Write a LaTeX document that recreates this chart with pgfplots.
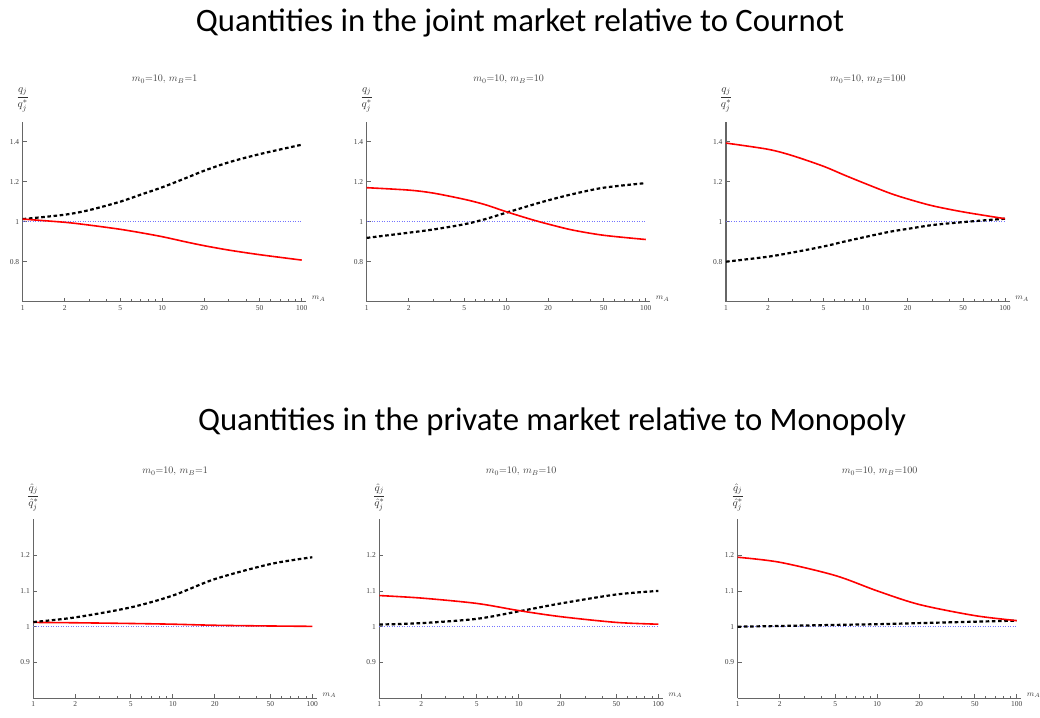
\documentclass[border=0pt]{standalone}
\usepackage{pgfplots}
\pgfplotsset{compat=1.18}
\usepackage{fontspec}
\setmainfont{Liberation Serif}
\newfontfamily\headfont{Carlito}

\definecolor{axisgray}{gray}{0.40}
\definecolor{refblue}{rgb}{0.45,0.45,1.0}

\pgfplotsset{every axis/.append style={
    xmode=log, xmin=1, xmax=108,
    scale only axis, width=283.7pt,
    axis lines*=left,
    axis line style={draw=axisgray, line width=1.1pt},
    tick align=inside,
    major tick length=4pt, minor tick length=2.2pt,
    tick style={axisgray, line width=0.8pt},
    xtick={1,2,5,10,20,50,100},
    xticklabels={1,2,5,10,20,50,100},
    minor xtick={3,4,6,7,8,9,30,40,60,70,80,90},
    ticklabel style={font=\fontsize{7.5}{8}\selectfont, text=black!75},
    clip=false,
}}

\tikzset{
  mmred/.style={red, line width=1.6pt, smooth},
  mmblack/.style={black, line width=2.2pt, dash pattern=on 3.6pt off 2.6pt, smooth},
  mmone/.style={refblue, line width=1.0pt, dash pattern=on 0.9pt off 1.6pt},
}

% panel decorations: subtitle, vertical label and horizontal label
\newcommand{\panelnotes}[3]{%
  \node[font=\fontsize{10}{11}\selectfont, text=black!75] at (rel axis cs:0.5,1) [yshift=#3] {$m_0{=}10,\,m_B{=}#1$};
  \node[font=\fontsize{11}{12}\selectfont, text=black!80] at (rel axis cs:0,1) [yshift=22pt] {#2};
  \node[font=\fontsize{8.5}{9}\selectfont, text=black!75, anchor=west] at (rel axis cs:1,0) [xshift=2pt, yshift=3pt] {$m_A$};
}

\begin{document}
\begin{tikzpicture}
\path[use as bounding box] (0,0) rectangle (1040pt,717pt);

\node[font=\headfont\fontsize{32.7}{36}\selectfont, anchor=base] at (520pt,685pt)
  {Quantities in the joint market relative to Cournot};
\node[font=\headfont\fontsize{32.7}{36}\selectfont, anchor=base] at (552pt,286pt)
  {Quantities in the private market relative to Monopoly};

% ---------- joint market ----------
\begin{axis}[height=180pt, ymin=0.6, ymax=1.5, ytick={0.8,1,1.2,1.4}, yticklabels={0.8,1,1.2,1.4},
  at={(22.7pt,415.3pt)}, anchor=south west]
  \addplot[mmone] coordinates {(1,1) (100,1)};
  \addplot[mmblack] coordinates {(1,1.013) (2,1.035) (3,1.058) (5,1.10) (7,1.135) (10,1.172) (15,1.22) (20,1.255) (30,1.297) (50,1.338) (100,1.385)};
  \addplot[mmred] coordinates {(1,1.013) (2,0.997) (3,0.983) (5,0.962) (7,0.945) (10,0.925) (15,0.898) (20,0.88) (30,0.858) (50,0.835) (100,0.808)};
  \panelnotes{1}{$\displaystyle\frac{q_j}{q_j^{*}}$}{42pt}
\end{axis}

\begin{axis}[height=180pt, ymin=0.6, ymax=1.5, ytick={0.8,1,1.2,1.4}, yticklabels={0.8,1,1.2,1.4},
  at={(366.7pt,415.3pt)}, anchor=south west]
  \addplot[mmone] coordinates {(1,1) (100,1)};
  \addplot[mmblack] coordinates {(1,0.919) (2,0.945) (3,0.961) (5,0.987) (7,1.012) (10,1.045) (15,1.082) (20,1.107) (30,1.138) (50,1.17) (100,1.193)};
  \addplot[mmred] coordinates {(1,1.17) (2,1.158) (3,1.143) (5,1.112) (7,1.086) (10,1.05) (15,1.012) (20,0.988) (30,0.958) (50,0.932) (100,0.911)};
  \panelnotes{10}{$\displaystyle\frac{q_j}{q_j^{*}}$}{42pt}
\end{axis}

\begin{axis}[height=180pt, ymin=0.6, ymax=1.5, ytick={0.8,1,1.2,1.4}, yticklabels={0.8,1,1.2,1.4},
  at={(726pt,415.3pt)}, anchor=south west]
  \addplot[mmone] coordinates {(1,1) (100,1)};
  \addplot[mmblack] coordinates {(1,0.80) (2,0.825) (3,0.846) (5,0.876) (7,0.90) (10,0.924) (15,0.95) (20,0.964) (30,0.983) (50,0.998) (100,1.015)};
  \addplot[mmred] coordinates {(1,1.393) (2,1.362) (3,1.33) (5,1.277) (7,1.234) (10,1.19) (15,1.142) (20,1.114) (30,1.08) (50,1.049) (100,1.015)};
  \panelnotes{100}{$\displaystyle\frac{q_j}{q_j^{*}}$}{42pt}
\end{axis}

% ---------- private market ----------
\begin{axis}[height=179pt, ymin=0.8, ymax=1.3, ytick={0.9,1,1.1,1.2}, yticklabels={0.9,1,1.1,1.2},
  at={(33.3pt,18.7pt)}, anchor=south west]
  \addplot[mmone] coordinates {(1,1) (100,1)};
  \addplot[mmred] coordinates {(1,1.012) (2,1.011) (5,1.009) (10,1.007) (20,1.004) (50,1.002) (100,1.001)};
  \addplot[mmblack] coordinates {(1,1.013) (2,1.026) (5,1.054) (10,1.087) (20,1.133) (50,1.175) (100,1.194)};
  \panelnotes{1}{$\displaystyle\frac{\hat q_j}{\hat q_j^{*}}$}{48pt}
\end{axis}

\begin{axis}[height=179pt, ymin=0.8, ymax=1.3, ytick={0.9,1,1.1,1.2}, yticklabels={0.9,1,1.1,1.2},
  at={(379.3pt,18.7pt)}, anchor=south west]
  \addplot[mmone] coordinates {(1,1) (100,1)};
  \addplot[mmblack] coordinates {(1,1.006) (2,1.01) (5,1.022) (10,1.043) (20,1.065) (50,1.09) (100,1.10)};
  \addplot[mmred] coordinates {(1,1.087) (2,1.08) (5,1.065) (10,1.045) (20,1.028) (50,1.012) (100,1.007)};
  \panelnotes{10}{$\displaystyle\frac{\hat q_j}{\hat q_j^{*}}$}{48pt}
\end{axis}

\begin{axis}[height=179pt, ymin=0.8, ymax=1.3, ytick={0.9,1,1.1,1.2}, yticklabels={0.9,1,1.1,1.2},
  at={(737.7pt,18.7pt)}, anchor=south west]
  \addplot[mmone] coordinates {(1,1) (100,1)};
  \addplot[mmblack] coordinates {(1,1.0) (2,1.002) (5,1.005) (10,1.007) (20,1.01) (50,1.014) (100,1.017)};
  \addplot[mmred] coordinates {(1,1.194) (2,1.18) (5,1.143) (10,1.10) (20,1.062) (50,1.031) (100,1.017)};
  \panelnotes{100}{$\displaystyle\frac{\hat q_j}{\hat q_j^{*}}$}{48pt}
\end{axis}
\end{tikzpicture}
\end{document}
